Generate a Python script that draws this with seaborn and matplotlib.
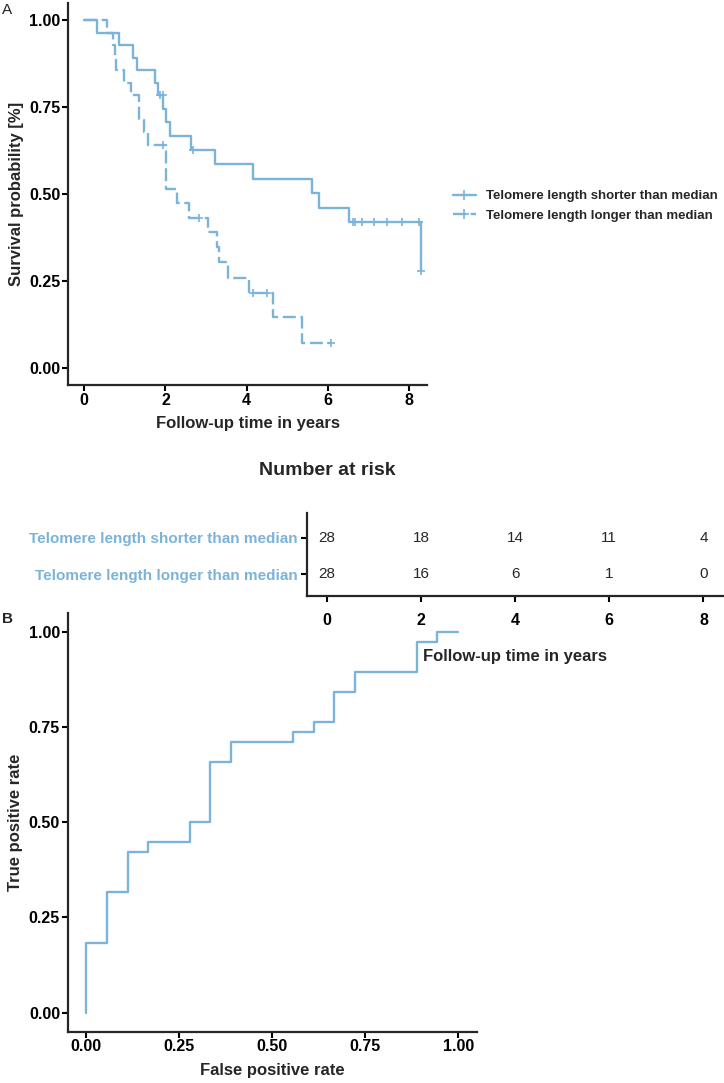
import numpy as np
import pandas as pd
import matplotlib
matplotlib.use("Agg")
import matplotlib.pyplot as plt
from matplotlib.lines import Line2D
import seaborn as sns

# Kaplan-Meier steps, telomere length shorter than median (solid)
times_short = [0, 0.31, 0.86, 1.21, 1.30, 1.75, 1.81, 1.95, 2.01, 2.12, 2.64,
               3.23, 4.17, 5.61, 5.79, 6.53, 8.31]
surv_short = [1.0, 0.964, 0.929, 0.893, 0.857, 0.821, 0.786, 0.746, 0.707,
              0.668, 0.628, 0.586, 0.544, 0.502, 0.460, 0.418, 0.279]
censor_short = [1.87, 1.93, 2.69, 6.63, 6.67, 6.85, 7.14, 7.47, 7.82, 8.25, 8.31]

# Kaplan-Meier steps, telomere length longer than median (dashed)
times_long = [0, 0.57, 0.70, 0.75, 0.79, 0.97, 1.16, 1.36, 1.47, 1.58, 2.01,
              2.28, 2.57, 3.06, 3.27, 3.31, 3.55, 4.07, 4.66, 5.36, 6.08]
surv_long = [1.0, 0.964, 0.929, 0.893, 0.857, 0.821, 0.786, 0.714, 0.679,
             0.640, 0.514, 0.473, 0.430, 0.392, 0.348, 0.305, 0.259, 0.215,
             0.145, 0.071, 0.071]
censor_long = [1.93, 2.82, 4.15, 4.50, 6.08]

group_names = ["Telomere length shorter than median",
               "Telomere length longer than median"]

# Number at risk
risk_times = [0, 2, 4, 6, 8]
risk_short = [28, 18, 14, 11, 4]
risk_long = [28, 16, 6, 1, 0]

# ROC curve
fpr = [0, 0, 0.056, 0.111, 0.167, 0.278, 0.333, 0.389, 0.556, 0.611, 0.667,
       0.722, 0.889, 0.944, 1.0]
tpr = [0, 0.184, 0.316, 0.421, 0.447, 0.5, 0.658, 0.711, 0.737, 0.763, 0.842,
       0.895, 0.974, 1.0, 1.0]

blue = "#7bb3d9"
sns.set_style("ticks")
plt.rcParams['font.family'] = ['Liberation Sans', 'DejaVu Sans']
plt.rcParams['axes.linewidth'] = 1.6
plt.rcParams['xtick.major.width'] = 1.5
plt.rcParams['ytick.major.width'] = 1.5
plt.rcParams['xtick.major.size'] = 4.5
plt.rcParams['ytick.major.size'] = 4.5
plt.rcParams['xtick.color'] = 'black'
plt.rcParams['ytick.color'] = 'black'

fig = plt.figure(figsize=(7.24, 10.83), dpi=100)

tick_font = dict(fontsize=11.5, fontweight='bold')
label_font = dict(fontsize=12, fontweight='bold')


def censor_levels(ctimes, times, surv):
    idx = np.searchsorted(times, ctimes, side='right') - 1
    return [surv[i] for i in idx]


# ---- Panel B: ROC (drawn first so the risk table sits on top) ----
ax3 = fig.add_axes([0.0935, 0.0474, 0.565, 0.387])
ax3.set_facecolor('none')
sns.lineplot(x=fpr, y=tpr, ax=ax3, color=blue, linewidth=1.7,
             drawstyle='steps-post', estimator=None, sort=False)
ax3.set_xlim(-0.05, 1.05)
ax3.set_ylim(-0.05, 1.05)
ticks = [0, 0.25, 0.5, 0.75, 1.0]
ax3.set_xticks(ticks)
ax3.set_yticks(ticks)
ax3.set_xticklabels(["0.00", "0.25", "0.50", "0.75", "1.00"], **tick_font)
ax3.set_yticklabels(["0.00", "0.25", "0.50", "0.75", "1.00"], **tick_font)
ax3.tick_params(axis='both', pad=1)
ax3.set_xlabel("False positive rate", labelpad=6, **label_font)
ax3.set_ylabel("True positive rate", labelpad=4, **label_font)
sns.despine(ax=ax3)

fig.text(0.003, 1 - 612 / 1083, "B", fontsize=11, fontweight='bold',
         va='top', ha='left')

# ---- Panel A: Kaplan-Meier ----
ax1 = fig.add_axes([0.094, 0.6445, 0.496, 0.3527])
dash = (0, (5.5, 2))
sns.lineplot(x=times_short, y=surv_short, ax=ax1, color=blue, linewidth=1.7,
             drawstyle='steps-post', estimator=None, sort=False)
sns.lineplot(x=times_long, y=surv_long, ax=ax1, color=blue, linewidth=1.7,
             linestyle=dash, drawstyle='steps-post', estimator=None, sort=False)
sns.scatterplot(x=censor_short, y=censor_levels(censor_short, times_short, surv_short),
                ax=ax1, marker='+', s=30, color=blue, linewidth=1.2, zorder=3)
sns.scatterplot(x=censor_long, y=censor_levels(censor_long, times_long, surv_long),
                ax=ax1, marker='+', s=30, color=blue, linewidth=1.2, zorder=3)
ax1.set_xlim(-0.4, 8.45)
ax1.set_ylim(-0.05, 1.05)
ax1.set_xticks([0, 2, 4, 6, 8])
ax1.set_yticks([0, 0.25, 0.5, 0.75, 1.0])
ax1.set_yticklabels(["0.00", "0.25", "0.50", "0.75", "1.00"], **tick_font)
ax1.set_xticklabels(["0", "2", "4", "6", "8"], **tick_font)
ax1.tick_params(axis='both', pad=1)
ax1.set_xlabel("Follow-up time in years", labelpad=6, **label_font)
ax1.set_ylabel("Survival probability [%]", labelpad=4, **label_font)
sns.despine(ax=ax1)

handles = [Line2D([], [], color=blue, lw=1.7, marker='+', markersize=7, mew=1.2),
           Line2D([], [], color=blue, lw=1.7, ls=dash, marker='+', markersize=7, mew=1.2)]
fig.legend(handles, group_names, loc='center left',
           bbox_to_anchor=(446 / 724, 1 - 206 / 1083), frameon=False,
           prop=dict(size=9.5, weight='bold'), handlelength=1.8,
           handletextpad=0.7, borderpad=0, labelspacing=0.55)

fig.text(0.003, 0.997, "A", fontsize=11, va='top', ha='left')

# ---- Number at risk table ----
fig.text(327 / 724, 1 - 470 / 1083, "Number at risk", fontsize=14,
         fontweight='bold', ha='center', va='center')
ax2 = fig.add_axes([0.424, 0.4497, 0.575, 0.077])
ax2.set_facecolor('none')
ax2.set_zorder(5)
ax2.set_xlim(-0.42, 8.42)
ax2.set_ylim(0.4, 2.7)
for t, a, b in zip(risk_times, risk_short, risk_long):
    ax2.text(t, 2, str(a), ha='center', va='center', fontsize=11)
    ax2.text(t, 1, str(b), ha='center', va='center', fontsize=11)
ax2.set_xticks(risk_times)
ax2.set_xticklabels([str(t) for t in risk_times], **tick_font)
ax2.set_yticks([2, 1])
ax2.set_yticklabels(group_names, fontsize=11, fontweight='bold', color=blue)
ax2.tick_params(axis='x', pad=8)
ax2.tick_params(axis='y', pad=2)
ax2.set_xlabel("Follow-up time in years", labelpad=15, **label_font)
sns.despine(ax=ax2)

fig.savefig("out.png", dpi=100)
